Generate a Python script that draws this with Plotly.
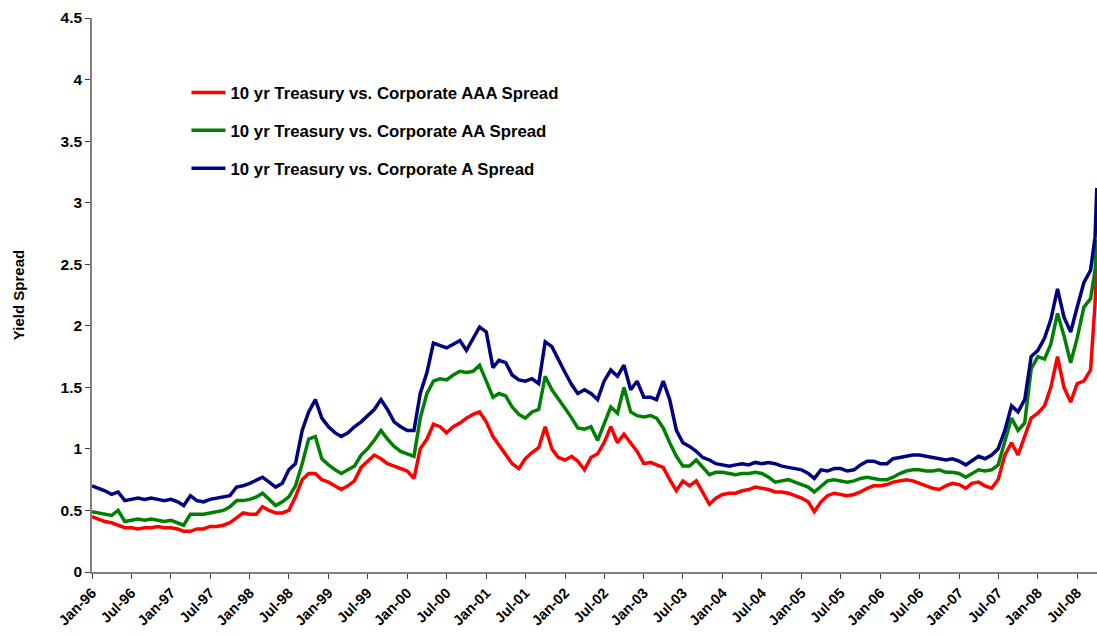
import plotly.graph_objects as go
import pandas as pd

# monthly dates Jan-96 .. Sep-08, plus two late-September 2008 observations
dates = [d.strftime("%Y-%m-%d") for d in pd.date_range("1996-01-01", "2008-09-01", freq="MS")] + ["2008-09-22", "2008-09-30"]

aaa_spread = [
    0.45, 0.43, 0.41, 0.40, 0.38, 0.36, 0.36, 0.35, 0.36, 0.36, 0.37, 0.36,
    0.36, 0.35, 0.33, 0.33, 0.35, 0.35, 0.37, 0.37, 0.38, 0.40, 0.44, 0.48,
    0.47, 0.47, 0.53, 0.50, 0.48, 0.48, 0.50, 0.61, 0.75, 0.80, 0.80, 0.75,
    0.73, 0.70, 0.67, 0.70, 0.74, 0.85, 0.90, 0.95, 0.92, 0.88, 0.86, 0.84,
    0.82, 0.76, 1.00, 1.08, 1.20, 1.18, 1.13, 1.18, 1.21, 1.25, 1.28, 1.30,
    1.22, 1.10, 1.03, 0.96, 0.88, 0.84, 0.92, 0.97, 1.01, 1.18, 1.00, 0.93,
    0.91, 0.94, 0.90, 0.83, 0.93, 0.96, 1.05, 1.18, 1.05, 1.12, 1.05, 0.98,
    0.88, 0.89, 0.87, 0.85, 0.75, 0.66, 0.74, 0.70, 0.74, 0.65, 0.55, 0.60,
    0.63, 0.64, 0.64, 0.66, 0.67, 0.69, 0.68, 0.67, 0.65, 0.65, 0.64, 0.62,
    0.60, 0.57, 0.49, 0.57, 0.62, 0.64, 0.63, 0.62, 0.63, 0.65, 0.68, 0.70,
    0.70, 0.71, 0.73, 0.74, 0.75, 0.74, 0.72, 0.70, 0.68, 0.67, 0.70, 0.72,
    0.71, 0.68, 0.72, 0.73, 0.70, 0.68, 0.75, 0.95, 1.05, 0.95, 1.10, 1.25,
    1.29, 1.35, 1.50, 1.75, 1.50, 1.38, 1.53, 1.55, 1.64, 2.18, 2.50,
]

aa_spread = [
    0.49, 0.48, 0.47, 0.46, 0.50, 0.41, 0.42, 0.43, 0.42, 0.43, 0.42, 0.41,
    0.42, 0.40, 0.38, 0.47, 0.47, 0.47, 0.48, 0.49, 0.50, 0.53, 0.58, 0.58,
    0.59, 0.61, 0.64, 0.59, 0.54, 0.57, 0.61, 0.70, 0.88, 1.08, 1.10, 0.92,
    0.87, 0.83, 0.80, 0.83, 0.86, 0.95, 1.00, 1.07, 1.15, 1.08, 1.02, 0.98,
    0.96, 0.94, 1.25, 1.45, 1.55, 1.57, 1.56, 1.60, 1.63, 1.62, 1.63, 1.68,
    1.55, 1.42, 1.45, 1.43, 1.34, 1.28, 1.25, 1.30, 1.32, 1.59, 1.48, 1.40,
    1.33, 1.25, 1.17, 1.16, 1.18, 1.07, 1.20, 1.34, 1.29, 1.50, 1.30, 1.27,
    1.26, 1.27, 1.25, 1.17, 1.05, 0.94, 0.86, 0.86, 0.91, 0.85, 0.79, 0.81,
    0.81, 0.80, 0.79, 0.80, 0.80, 0.81, 0.80, 0.77, 0.73, 0.74, 0.75, 0.73,
    0.71, 0.69, 0.65, 0.70, 0.74, 0.75, 0.74, 0.73, 0.74, 0.76, 0.77, 0.76,
    0.75, 0.75, 0.77, 0.80, 0.82, 0.83, 0.83, 0.82, 0.82, 0.83, 0.81, 0.81,
    0.80, 0.77, 0.80, 0.83, 0.82, 0.83, 0.87, 1.05, 1.25, 1.15, 1.21, 1.65,
    1.75, 1.73, 1.85, 2.10, 1.92, 1.70, 1.90, 2.15, 2.22, 2.45, 2.70,
]

a_spread = [
    0.70, 0.68, 0.66, 0.63, 0.65, 0.58, 0.59, 0.60, 0.59, 0.60, 0.59, 0.58,
    0.59, 0.57, 0.54, 0.62, 0.58, 0.57, 0.59, 0.60, 0.61, 0.62, 0.69, 0.70,
    0.72, 0.75, 0.77, 0.73, 0.69, 0.72, 0.83, 0.88, 1.15, 1.30, 1.40, 1.25,
    1.18, 1.13, 1.10, 1.13, 1.18, 1.22, 1.27, 1.32, 1.40, 1.32, 1.22, 1.18,
    1.15, 1.15, 1.45, 1.62, 1.86, 1.84, 1.82, 1.85, 1.88, 1.80, 1.90, 1.99,
    1.95, 1.66, 1.72, 1.70, 1.60, 1.56, 1.55, 1.57, 1.53, 1.87, 1.83, 1.72,
    1.62, 1.52, 1.45, 1.48, 1.45, 1.40, 1.55, 1.64, 1.59, 1.68, 1.48, 1.55,
    1.42, 1.42, 1.40, 1.55, 1.40, 1.15, 1.05, 1.02, 0.98, 0.93, 0.91, 0.88,
    0.87, 0.86, 0.87, 0.88, 0.87, 0.89, 0.88, 0.89, 0.88, 0.86, 0.85, 0.84,
    0.83, 0.80, 0.76, 0.83, 0.82, 0.84, 0.84, 0.82, 0.83, 0.87, 0.90, 0.90,
    0.88, 0.88, 0.92, 0.93, 0.94, 0.95, 0.95, 0.94, 0.93, 0.92, 0.91, 0.92,
    0.90, 0.87, 0.90, 0.94, 0.92, 0.95, 1.00, 1.15, 1.35, 1.30, 1.40, 1.75,
    1.80, 1.90, 2.05, 2.30, 2.07, 1.95, 2.15, 2.35, 2.45, 2.72, 3.12,
]

series_names = [
    "10 yr Treasury vs. Corporate AAA Spread",
    "10 yr Treasury vs. Corporate AA Spread",
    "10 yr Treasury vs. Corporate A Spread",
]
series_colors = ["#FF0000", "#008000", "#000080"]

x_tick_vals = [d.strftime("%Y-%m-%d") for d in pd.date_range("1996-01-01", "2008-07-01", freq="6MS")]
x_tick_text = [d.strftime("%b-%y") for d in pd.date_range("1996-01-01", "2008-07-01", freq="6MS")]
y_tick_vals = [0, 0.5, 1, 1.5, 2, 2.5, 3, 3.5, 4, 4.5]
y_tick_text = ["0", "0.5", "1", "1.5", "2", "2.5", "3", "3.5", "4", "4.5"]

FONT = "Liberation Sans, Arial, sans-serif"

fig = go.Figure()
for i, (name, vals, col) in enumerate(zip(series_names, [aaa_spread, aa_spread, a_spread], series_colors)):
    fig.add_trace(go.Scatter(
        x=dates, y=vals, mode="lines", name=f"<b>{name}</b>",
        line=dict(color=col, width=3.5), legendgroup=f"g{i}",
    ))

fig.update_layout(
    width=1097, height=637,
    margin=dict(l=92, r=0, t=18, b=65),
    paper_bgcolor="white", plot_bgcolor="white",
    font=dict(family=FONT, size=15, color="black"),
    showlegend=True,
    legend=dict(
        x=0.094, y=0.897, xanchor="left", yanchor="top",
        bgcolor="rgba(0,0,0,0)", borderwidth=0,
        font=dict(family=FONT, size=16.8, color="black"),
        traceorder="grouped", tracegroupgap=13, itemwidth=34,
    ),
    xaxis=dict(
        range=["1996-01-01", "2008-10-01"],
        tickvals=x_tick_vals, ticktext=[f"<b>{t}</b>" for t in x_tick_text], tickangle=-45,
        showline=True, linecolor="#808080", linewidth=1.5,
        ticks="outside", ticklen=5, tickcolor="#404040",
        showgrid=False, zeroline=False, automargin=False,
        tickfont=dict(family=FONT, size=14.5, color="black"),
    ),
    yaxis=dict(
        range=[0, 4.5],
        tickvals=y_tick_vals, ticktext=[f"<b>{t}</b>" for t in y_tick_text],
        showline=True, linecolor="#808080", linewidth=1.5,
        ticks="outside", ticklen=5, tickcolor="#404040",
        showgrid=False, zeroline=False, automargin=False,
        tickfont=dict(family=FONT, size=15.5, color="black"),
        title=dict(text="<b>Yield Spread</b>", standoff=32,
                   font=dict(family=FONT, size=15, color="black")),
    ),
)

# remove the default page margin so the figure fills the window exactly
fig.write_html(
    "out.html",
    config={"displayModeBar": False},
    post_script="document.body.style.margin='0';document.body.style.overflow='hidden';"
                "document.documentElement.style.overflow='hidden';",
)
